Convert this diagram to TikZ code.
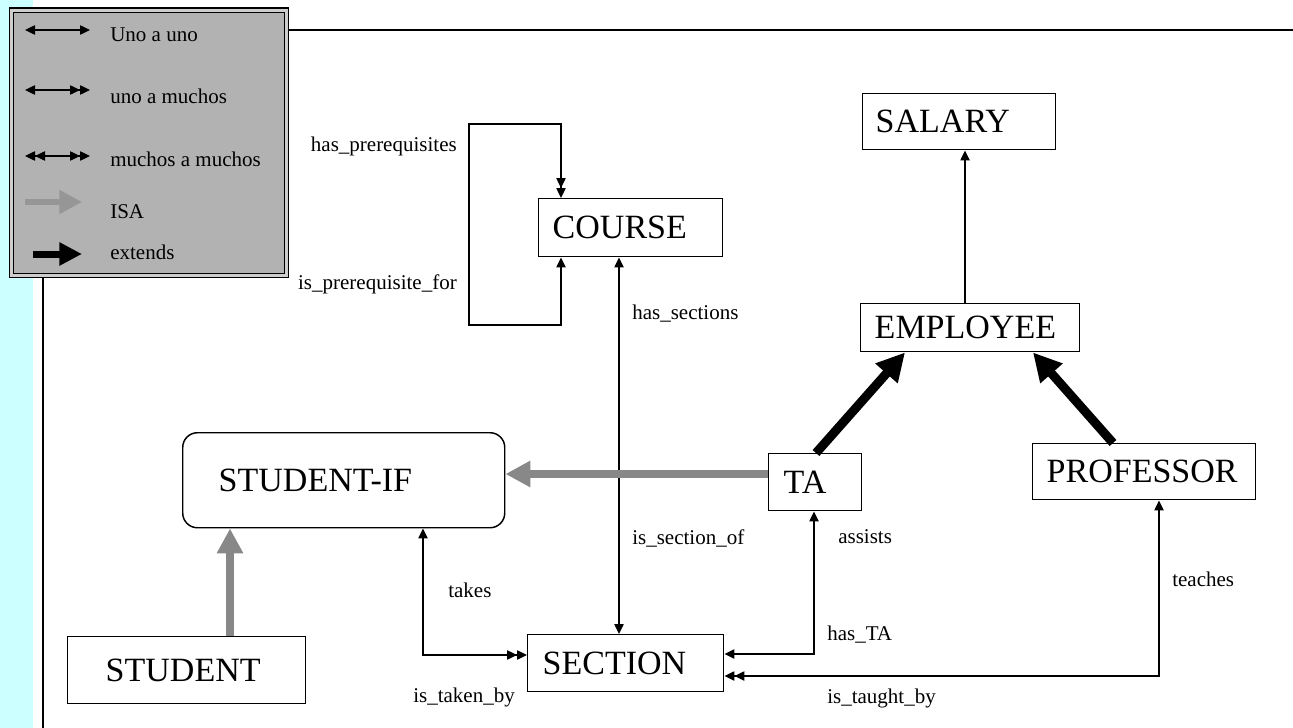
\documentclass[tikz,border=0pt]{standalone}
\usepackage{fontspec}
\setmainfont{Liberation Serif}
\usetikzlibrary{arrows.meta,calc}
\definecolor{cyanbg}{RGB}{204,255,255}
\definecolor{legfill}{RGB}{178,178,178}
\definecolor{legdouble}{RGB}{205,205,205}
\definecolor{isagray}{RGB}{136,136,136}
\definecolor{legisa}{RGB}{150,150,150}
\newcommand\dgbig{\fontsize{25.5pt}{30pt}\selectfont}
\newcommand\dgsmall{\fontsize{15.75pt}{19pt}\selectfont}
\begin{document}
\begin{tikzpicture}[x=0.75pt,y=-0.75pt,
  >={Triangle[length=7.5pt,width=7pt]},
  conn/.style={line width=1pt},
  box/.style={draw, line width=1.1pt, align=left, inner ysep=0pt, anchor=north west, font=\dgbig},
  lbl/.style={anchor=base west, inner sep=0pt, font=\dgsmall},
  lblr/.style={anchor=base east, inner sep=0pt, font=\dgsmall},
  isa/.style={draw=isagray, line width=6pt, -{Triangle[length=18.75pt,width=18.75pt]}},
  ext/.style={line width=6.75pt, -{Triangle[length=21pt,width=21pt]}},
]
\useasboundingbox (0,0) rectangle (1293,728);
% background strip and frame lines
\fill[cyanbg] (0,0) rectangle (33,728);
\node[draw, fill=legfill, line width=0.8pt, double=legdouble, double distance=2.25pt,
      anchor=north west, minimum width=206.25pt, minimum height=199.1pt, inner sep=0pt]
      (legend) at (11,9.5) {};
\coordinate (TL) at (288,30);
\coordinate (TR) at (1293,30);
\coordinate (VL) at (43,277);
\coordinate (VB) at (43,728);
\draw[line width=1pt] (TL) -- (TR);
\draw[line width=1pt] (VL) -- (VB);
% legend content
\coordinate (a1) at (25,30);  \coordinate (b1) at (90,30);
\coordinate (a2) at (25,90);  \coordinate (b2) at (90,90);
\coordinate (a3) at (25,156); \coordinate (b3) at (90,156);
\coordinate (a4) at (25,202); \coordinate (b4) at (82,202);
\coordinate (a5) at (33,254); \coordinate (b5) at (82,254);
\draw[conn,<->] (a1) -- (b1);
\draw[conn,<->>] (a2) -- (b2);
\draw[conn,<<->>] (a3) -- (b3);
\draw[draw=legisa, line width=4.5pt, -{Triangle[length=17pt,width=17pt]}] (a4) -- (b4);
\draw[line width=5.25pt, -{Triangle[length=17pt,width=16.5pt]}] (a5) -- (b5);
\node[lbl] (l1) at (110,41) {Uno a uno};
\node[lbl] (l2) at (110,103) {uno a muchos};
\node[lbl] (l3) at (110,166) {muchos a muchos};
\node[lbl] (l4) at (110,218) {ISA};
\node[lbl] (l5) at (110,259) {extends};
% boxes
\node[box, text width=125.25pt, inner xsep=9.75pt, minimum height=42pt] (SAL) at (862,93) {SALARY};
\node[box, text width=143.25pt, inner xsep=10.5pt, minimum height=36pt] (EMP) at (860,303) {EMPLOYEE};
\node[box, text width=117pt, inner xsep=10.5pt, minimum height=43.5pt] (COURSE) at (538,198) {COURSE};
\node[box, text width=47.25pt, inner xsep=11.25pt, minimum height=42.75pt] (TA) at (768,453) {TA};
\node[box, text width=146.25pt, inner xsep=10.5pt, minimum height=42pt] (PROF) at (1032,443) {PROFESSOR};
\node[box, text width=124.5pt, inner xsep=11.25pt, minimum height=42.75pt] (SECTION) at (527,634) {SECTION};
\node[box, rounded corners=11pt, text width=187.5pt, inner xsep=27pt, minimum height=71.25pt] (SIF) at (182,432) {STUDENT-IF};
\node[box, text width=121.5pt, inner xsep=28.5pt, minimum height=50pt] (STUDENT) at (67,636) {STUDENT};
% connectors
\coordinate (L1) at (561,124); \coordinate (L2) at (469,124);
\coordinate (L3) at (469,325); \coordinate (L4) at (561,325);
\draw[conn,<->>] (COURSE.south -| L4) -- (L4) -- (L3) -- (L2) -- (L1) -- (COURSE.north -| L1);
\coordinate (CS) at (619,0);
\draw[conn,<->] (COURSE.south -| CS) -- (SECTION.north -| CS);
\coordinate (TK) at (423,655);
\draw[conn,<->>] (SIF.south -| TK) -- (TK) -- (SECTION.west |- TK);
\coordinate (TH) at (814,654);
\draw[conn,<->] (TA.south -| TH) -- (TH) -- (SECTION.east |- TH);
\coordinate (PT) at (1159,676);
\draw[conn,<->>] (PROF.south -| PT) -- (PT) -- (SECTION.east |- PT);
\coordinate (ES) at (965,0);
\draw[conn,->] (EMP.north -| ES) -- (SAL.south -| ES);
\coordinate (X1) at (816,0); \coordinate (X2) at (905,0);
\coordinate (X3) at (1113,0); \coordinate (X4) at (1033,0);
\draw[ext] (TA.north -| X1) -- (EMP.south -| X2);
\draw[ext] (PROF.north -| X3) -- (EMP.south -| X4);
\coordinate (Y1) at (0,474);
\draw[isa] (TA.west |- Y1) -- (SIF.east |- Y1);
\coordinate (X5) at (230,0);
\draw[isa] (STUDENT.north -| X5) -- (SIF.south -| X5);
% labels
\node[lblr] (n1) at (457,151) {has\_prerequisites};
\node[lblr] (n2) at (457,289) {is\_prerequisite\_for};
\node[lbl] (n3) at (632,319) {has\_sections};
\node[lbl] (n4) at (632,544) {is\_section\_of};
\node[lbl] (n5) at (448,597) {takes};
\node[lbl] (n6) at (413,702) {is\_taken\_by};
\node[lbl] (n7) at (838,543) {assists};
\node[lbl] (n8) at (827,640) {has\_TA};
\node[lbl] (n9) at (827,703) {is\_taught\_by};
\node[lbl] (n10) at (1172,586) {teaches};
\end{tikzpicture}
\end{document}
